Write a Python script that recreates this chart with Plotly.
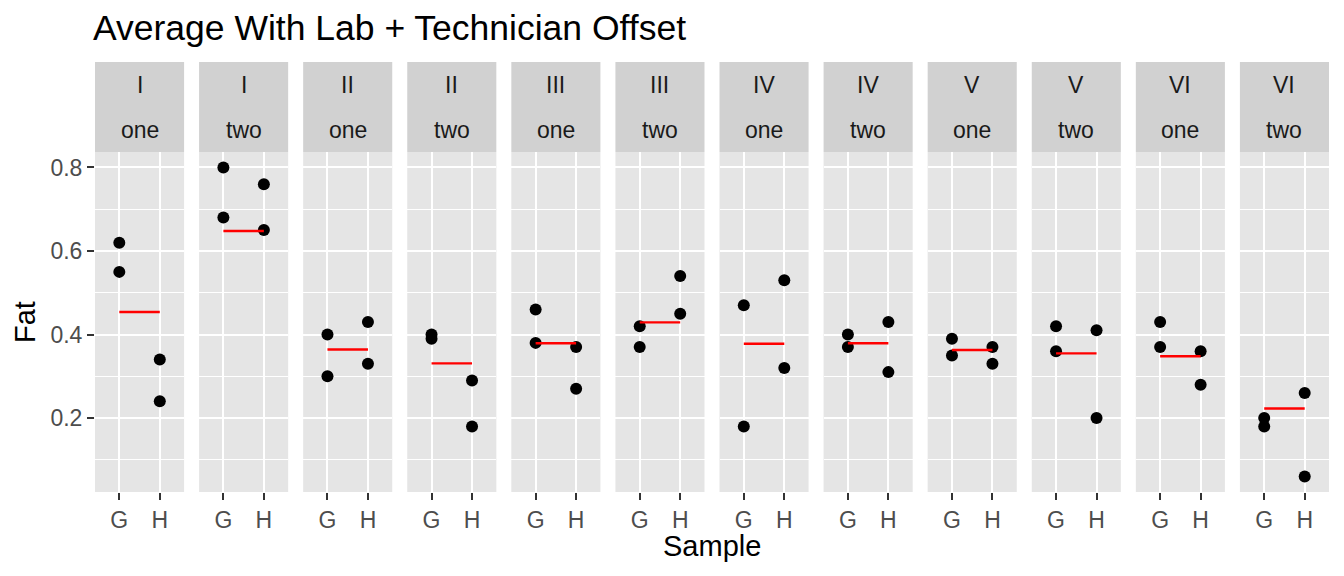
import plotly.graph_objects as go
from plotly.subplots import make_subplots

# eggs data: fat content by lab / technician / sample
labs = ["I", "I", "II", "II", "III", "III", "IV", "IV", "V", "V", "VI", "VI"]
techs = ["one", "two", "one", "two", "one", "two", "one", "two", "one", "two", "one", "two"]
samples = ["G", "H"]
fat_g = [[0.62, 0.55], [0.80, 0.68], [0.40, 0.30], [0.40, 0.39], [0.46, 0.38], [0.42, 0.37],
         [0.47, 0.18], [0.40, 0.37], [0.39, 0.35], [0.42, 0.36], [0.43, 0.37], [0.20, 0.18]]
fat_h = [[0.34, 0.24], [0.76, 0.65], [0.43, 0.33], [0.29, 0.18], [0.37, 0.27], [0.54, 0.45],
         [0.53, 0.32], [0.43, 0.31], [0.37, 0.33], [0.41, 0.20], [0.36, 0.28], [0.26, 0.06]]
# fitted average (lab + technician offset)
fitted = [0.454, 0.648, 0.364, 0.331, 0.379, 0.429, 0.378, 0.379, 0.363, 0.355, 0.348, 0.223]

# page body has an 8px margin, so the figure is drawn 8px smaller and offset
W, H = 1336, 568
L, R, T, B = 87, 15, 144, 84
STRIP = 90
n = len(labs)
pw = W - L - R
ph = H - T - B
gap = 15

FONT = "Liberation Sans, Arial, sans-serif"

fig = make_subplots(rows=1, cols=n, shared_yaxes=True, horizontal_spacing=gap / pw)

for i in range(n):
    xs = [samples[0]] * len(fat_g[i]) + [samples[1]] * len(fat_h[i])
    ys = fat_g[i] + fat_h[i]
    fig.add_trace(go.Scatter(x=xs, y=ys, mode="markers",
                             marker=dict(color="black", size=12), hoverinfo="x+y",
                             showlegend=False), row=1, col=i + 1)
    fig.add_trace(go.Scatter(x=samples, y=[fitted[i], fitted[i]], mode="lines",
                             line=dict(color="#FF0000", width=2.4), showlegend=False),
                  row=1, col=i + 1)

allv = [v for p in fat_g + fat_h for v in p]
lo, hi = min(allv), max(allv)
pad = (hi - lo) * 0.05

fig.update_xaxes(type="category", categoryorder="array", categoryarray=samples,
                 range=[-0.6, 1.6], showgrid=True, gridcolor="white", gridwidth=2.2,
                 zeroline=False, showline=False, ticks="outside", ticklen=7, tickwidth=2,
                 tickcolor="#333333", tickfont=dict(family=FONT, size=23, color="#4D4D4D"),
                 fixedrange=True)
fig.update_yaxes(range=[lo - pad, hi + pad], tickvals=[0.2, 0.4, 0.6, 0.8],
                 ticktext=["0.2", "0.4", "0.6", "0.8"],
                 showgrid=True, gridcolor="white", gridwidth=2.2, zeroline=False, showline=False,
                 minor=dict(tickvals=[0.1, 0.3, 0.5, 0.7], showgrid=True, gridcolor="white",
                            gridwidth=1.1, ticks=""),
                 ticks="", tickfont=dict(family=FONT, size=23, color="#4D4D4D"), fixedrange=True)
fig.update_layout(yaxis=dict(ticks="outside", ticklen=7, tickwidth=2, tickcolor="#333333"))

# strips
sh = STRIP / ph
for i in range(n):
    xa = fig.layout["xaxis" if i == 0 else f"xaxis{i + 1}"]
    x0, x1 = xa.domain
    fig.add_shape(type="rect", xref="paper", yref="paper", x0=x0, x1=x1, y0=1, y1=1 + sh,
                  fillcolor="#D1D1D1", line=dict(width=0), layer="below")
    xc = (x0 + x1) / 2
    for txt, frac in ((labs[i], 0.75), (techs[i], 0.25)):
        fig.add_annotation(x=xc, y=1 + sh * frac, xref="paper", yref="paper", text=txt,
                           showarrow=False, xanchor="center", yanchor="middle",
                           font=dict(family=FONT, size=23, color="#1A1A1A"))

# axis titles
fig.add_annotation(x=0.5, y=-(538 - (H - B)) / ph, xref="paper", yref="paper", text="Sample",
                   showarrow=False, xanchor="center", yanchor="middle",
                   font=dict(family=FONT, size=29, color="black"))
fig.add_annotation(x=-(L - 17) / pw, y=0.5, xref="paper", yref="paper", text="Fat",
                   showarrow=False, textangle=-90, xanchor="center", yanchor="middle",
                   font=dict(family=FONT, size=29, color="black"))

fig.update_layout(
    width=W, height=H,
    margin=dict(l=L, r=R, t=T, b=B),
    paper_bgcolor="white", plot_bgcolor="#E5E5E5",
    title=dict(text="Average With Lab + Technician Offset", x=85 / W, xanchor="left",
               y=1 - 20 / H, yanchor="middle", yref="container",
               font=dict(family=FONT, size=35.5, color="black")),
    showlegend=False,
)

fig.write_html("out.html")
